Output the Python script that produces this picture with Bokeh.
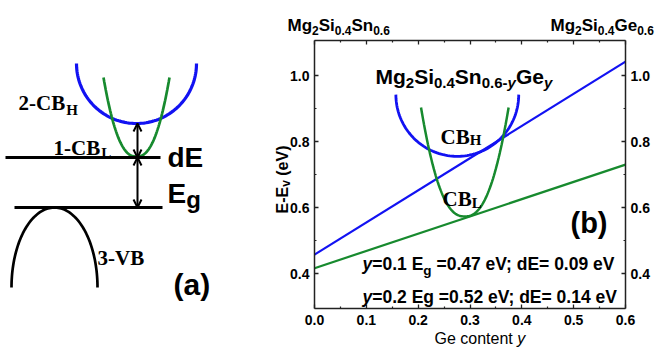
import numpy as np
from bokeh.plotting import figure
from bokeh.models import (Range1d, LinearAxis, FixedTicker, PrintfTickFormatter,
                          Label, Arrow, OpenHead, CustomJSTickFormatter)
from bokeh.embed import file_html
from bokeh.resources import INLINE

# ---------------- data (panel b) ----------------
ge_content = [0.0, 0.6]
cbh_edge = [0.457, 1.042]      # upper conduction band edge (blue)
cbl_edge = [0.416, 0.730]      # lower conduction band edge / gap (green)
x_ticks = [0.0, 0.1, 0.2, 0.3, 0.4, 0.5, 0.6]
x_minor = [0.05, 0.15, 0.25, 0.35, 0.45, 0.55]
y_ticks = [0.4, 0.6, 0.8, 1.0]
y_minor = [0.5, 0.7, 0.9]
# schematic valleys drawn inside panel (b): centre, minimum, top, half width
cbh_valley = dict(center=0.2755, bottom=0.755, top=0.942, half=0.1185)
cbl_valley = dict(center=0.290, bottom=0.573, top=0.903, half=0.0845)
note_rows = [("=0.1 E", "g", " =0.47 eV; dE= 0.09 eV"),
             ("=0.2 Eg =0.52 eV; dE= 0.14 eV", "", "")]

BLUE = "#1212f2"
GREEN = "#178a2e"
INK = "#000000"
AX = "#222222"
SANS = "Liberation Sans"
SERIF = "Liberation Serif"

W_SANS_B = {'M': 833, 'g': 611, 'S': 667, 'i': 278, 'n': 611, 'G': 778, 'e': 556,
            '.': 278, '-': 333, 'y': 556, 'E': 667, ' ': 278, '=': 584, ';': 333,
            'd': 611, 'V': 667, '(': 333, ')': 333, 'a': 556, 'b': 611, 'v': 556,
            'c': 556, 'o': 611, 't': 333}
W_SANS = {'G': 778, 'e': 556, ' ': 278, 'c': 500, 'o': 556, 'n': 556, 't': 278, 'y': 500}
W_SERIF_B = {'-': 333, 'C': 722, 'B': 667, 'H': 778, 'L': 667, 'V': 722}


def text_width(s, size, table):
    return sum(table.get(ch, 556 if ch.isdigit() else 560) for ch in s) * size / 1000.0


# ---------------- canvas: page pixels as the primary coordinates ----------------
W, H = 656, 349
p = figure(width=W, height=H, x_range=Range1d(0, W), y_range=Range1d(H, 0),
           output_backend="svg", toolbar_location=None, min_border=0,
           x_axis_location=None, y_axis_location=None, outline_line_color=None)
p.grid.visible = False


def put_run(x0, y0, pieces, angle=0):
    """pieces: (text, size_px, drop_px, font, style, width_table); x0,y0 = baseline start"""
    pos = 0.0
    for (s, size, drop, font, style, table) in pieces:
        lead = len(s) - len(s.lstrip(" "))
        pos += text_width(" " * lead, size, table)
        s = s.lstrip(" ")
        if angle == 0:
            x, y = x0 + pos, y0 + drop
        else:
            x, y = x0 + drop, y0 - pos
        p.add_layout(Label(x=x, y=y, text=s, text_font=font,
                           text_font_size=f"{size}px", text_font_style=style,
                           text_baseline="alphabetic", text_align="left",
                           angle=angle, angle_units="deg", text_color=INK))
        pos += text_width(s, size, table)
    return pos


def run_width(pieces):
    return sum(text_width(q[0], q[1], q[5]) for q in pieces)


# ---------------- panel (a): schematic ----------------
t = np.linspace(0, np.pi, 90)
u = np.linspace(-1, 1, 90)
p.line(136 - 60 * np.cos(t), 63 + 60 * np.sin(t), line_color=BLUE, line_width=3.2)
p.line(136 + 33 * u, 156 - 79 * np.abs(u) ** 2.4, line_color=GREEN, line_width=2.7)
p.line(54 - 43 * np.cos(t), 287 - 80 * np.sin(t), line_color=INK, line_width=2.7)
p.line([5, 160], [157, 157], line_color=INK, line_width=2.8)
p.line([14, 162], [207, 207], line_color=INK, line_width=2.8)
for ys, ye in [(123, 157), (157, 207)]:
    p.add_layout(Arrow(start=OpenHead(size=8, line_width=2, line_color=INK),
                       end=OpenHead(size=8, line_width=2, line_color=INK),
                       x_start=137, y_start=ys, x_end=137, y_end=ye,
                       line_width=2, line_color=INK))

put_run(18, 102, [("2-CB", 21, 0, SERIF, "bold", W_SERIF_B),
                  ("H", 15, 7, SERIF, "bold", W_SERIF_B)])
put_run(53, 147, [("1-CB", 21, 0, SERIF, "bold", W_SERIF_B),
                  ("L", 15, 5, SERIF, "bold", W_SERIF_B)])
put_run(97, 257, [("3-VB", 21, 0, SERIF, "bold", W_SERIF_B)])
put_run(167, 157, [("dE", 28, 0, SANS, "bold", W_SANS_B)])
put_run(167, 193, [("E", 28, 0, SANS, "bold", W_SANS_B),
                   ("g", 24, 6, SANS, "bold", W_SANS_B)])
put_run(173, 284, [("(a)", 30, 0, SANS, "bold", W_SANS_B)])

# ---------------- panel (b): band edges vs Ge content ----------------
FL, FR, FT, FB = 314, 625, 40, 308          # frame of panel (b) on the canvas
XA, XB = 0.0, 0.6
PX_PER_Y = 330.0
Y_AT_FB = 0.4 - (FB - 273) / PX_PER_Y
Y_AT_FT = Y_AT_FB + (FB - FT) / PX_PER_Y
KX = (XB - XA) / (FR - FL)
p.extra_x_ranges = {"bx": Range1d(XA - FL * KX, XB + (W - FR) * KX)}
p.extra_y_ranges = {"by": Range1d(Y_AT_FB - (H - FB) / PX_PER_Y, Y_AT_FT + FT / PX_PER_Y)}

xt = FixedTicker(ticks=x_ticks, minor_ticks=x_minor)
yt = FixedTicker(ticks=y_ticks, minor_ticks=y_minor)
fmt = PrintfTickFormatter(format="%.1f")
blank = CustomJSTickFormatter(code="return ''")

ax_b = LinearAxis(x_range_name="bx", y_range_name="by", fixed_location=Y_AT_FB,
                  bounds=(XA, XB), ticker=xt, formatter=fmt)
ax_t = LinearAxis(x_range_name="bx", y_range_name="by", fixed_location=Y_AT_FT,
                  bounds=(XA, XB), ticker=xt, formatter=blank)
ax_l = LinearAxis(x_range_name="bx", y_range_name="by", fixed_location=XA,
                  bounds=(Y_AT_FB, Y_AT_FT), ticker=yt, formatter=fmt)
ax_r = LinearAxis(x_range_name="bx", y_range_name="by", fixed_location=XB,
                  bounds=(Y_AT_FB, Y_AT_FT), ticker=yt, formatter=fmt)
p.add_layout(ax_b, "below")
p.add_layout(ax_t, "above")
p.add_layout(ax_l, "left")
p.add_layout(ax_r, "right")
for ax in [ax_b, ax_t, ax_l, ax_r]:
    ax.major_tick_in = 4
    ax.major_tick_out = 0
    ax.minor_tick_in = 2
    ax.minor_tick_out = 0
    ax.axis_line_width = 1.5
    ax.axis_line_color = AX
    ax.major_tick_line_width = 1.3
    ax.minor_tick_line_width = 1.2
    ax.major_tick_line_color = AX
    ax.minor_tick_line_color = AX
    ax.major_label_text_font = SANS
    ax.major_label_text_font_size = "14px"
    ax.major_label_text_font_style = "bold"
    ax.major_label_text_color = INK
ax_b.major_label_standoff = 6
ax_l.major_label_standoff = 5
ax_r.major_label_standoff = 5

rb = dict(x_range_name="bx", y_range_name="by")
p.line(ge_content, cbh_edge, line_color=BLUE, line_width=2.2, **rb)
p.line(ge_content, cbl_edge, line_color=GREEN, line_width=2.2, **rb)
hv = cbh_valley
p.line(hv["center"] - hv["half"] * np.cos(t), hv["top"] - (hv["top"] - hv["bottom"]) * np.sin(t),
       line_color=BLUE, line_width=2.8, **rb)
gv = cbl_valley
p.line(gv["center"] + gv["half"] * u, gv["bottom"] + (gv["top"] - gv["bottom"]) * np.abs(u) ** 2.4,
       line_color=GREEN, line_width=2.5, **rb)


# compound titles
def formula(last, big, small, drop):
    return [("Mg", big, 0, SANS, "bold", W_SANS_B), ("2", small, drop, SANS, "bold", W_SANS_B),
            ("Si", big, 0, SANS, "bold", W_SANS_B), ("0.4", small, drop, SANS, "bold", W_SANS_B),
            (last, big, 0, SANS, "bold", W_SANS_B), ("0.6", small, drop, SANS, "bold", W_SANS_B)]


put_run(287, 25, formula("Sn", 17, 12, 5))
rt = formula("Ge", 17, 12, 5)
put_run(min(550, W - 1 - run_width(rt)), 25, rt)

inner = [("Mg", 21, 0, SANS, "bold", W_SANS_B), ("2", 15, 6, SANS, "bold", W_SANS_B),
         ("Si", 21, 0, SANS, "bold", W_SANS_B), ("0.4", 15, 6, SANS, "bold", W_SANS_B),
         ("Sn", 21, 0, SANS, "bold", W_SANS_B), ("0.6-", 15, 6, SANS, "bold", W_SANS_B),
         ("y", 15, 6, SANS, "bold italic", W_SANS_B), ("Ge", 21, 0, SANS, "bold", W_SANS_B),
         ("y", 15, 6, SANS, "bold italic", W_SANS_B)]
put_run(375, 76, inner)

put_run(440, 136, [("CB", 21, 0, SERIF, "bold", W_SERIF_B),
                   ("H", 15, 3.5, SERIF, "bold", W_SERIF_B)])
put_run(442, 198, [("CB", 21, 0, SERIF, "bold", W_SERIF_B),
                   ("L", 15, 4.5, SERIF, "bold", W_SERIF_B)])
put_run(570, 222, [("(b)", 29, 0, SANS, "bold", W_SANS_B)])

for (a, sub, b), base in zip(note_rows, [263, 296]):
    pieces = [("y", 17.5, 0, SANS, "bold italic", W_SANS_B), (a, 17.5, 0, SANS, "bold", W_SANS_B)]
    if sub:
        pieces.append((sub, 13.5, 7, SANS, "bold", W_SANS_B))
    if b:
        pieces.append((b, 17.5, 0, SANS, "bold", W_SANS_B))
    put_run(362, base, pieces)

# axis titles
put_run(434, 338, [("Ge content", 16, 0, SANS, "normal", W_SANS),
                   (" y", 16, 0, SANS, "italic", W_SANS)])
put_run(282, 213, [("E-E", 16, 0, SANS, "bold", W_SANS_B),
                   ("v", 12, 3, SANS, "bold", W_SANS_B),
                   (" (eV)", 16, 0, SANS, "bold", W_SANS_B)], angle=90)

open("out.html", "w").write(file_html(p, INLINE))
